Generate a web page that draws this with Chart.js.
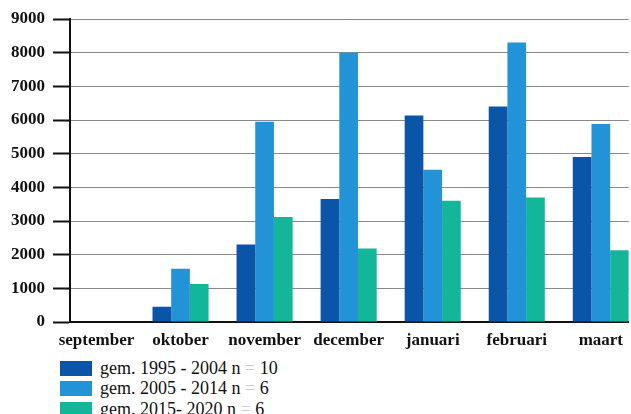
<!DOCTYPE html>
<html>
<head>
<meta charset="utf-8">
<script src="https://cdn.jsdelivr.net/npm/chart.js@4"></script>
<style>
  html, body { margin: 0; padding: 0; background: #fff; width: 631px; height: 414px; overflow: hidden; }
  #wrap { position: absolute; left: 0; top: 0; width: 631px; height: 352px; }
  #legend { position: absolute; left: 60px; top: 358px; font-family: "Liberation Serif", serif; font-size: 18px; color: #111; }
  .item { height: 20.5px; display: flex; align-items: center; }
  .box { width: 32px; height: 15px; margin-right: 8px; }
  .eq { color: #ccc; }
</style>
</head>
<body>
<div id="wrap"><canvas id="chart"></canvas></div>
<div id="legend"></div>
<script>
const months = ['september', 'oktober', 'november', 'december', 'januari', 'februari', 'maart'];
const avg1995 = [0, 450, 2300, 3650, 6130, 6400, 4900];
const avg2005 = [0, 1580, 5950, 8000, 4520, 8300, 5880];
const avg2015 = [0, 1130, 3120, 2180, 3600, 3700, 2130];
const seriesNames = ['gem. 1995 - 2004 n = 10', 'gem. 2005 - 2014 n = 6', 'gem. 2015- 2020  n = 6'];
const colors = ['#0a55a8', '#2193d6', '#14b699'];

const serif = '"Liberation Serif", "Times New Roman", serif';

// month index as x so the first group can sit a bit left of the y axis like the original
function points(values) {
    return values.map(function (v, i) { return { x: i, y: v }; });
}

const ctx = document.getElementById('chart').getContext('2d');
const chart = new Chart(ctx, {
    type: 'bar',
    data: {
        datasets: [
            { label: seriesNames[0], data: points(avg1995), backgroundColor: colors[0] },
            { label: seriesNames[1], data: points(avg2005), backgroundColor: colors[1] },
            { label: seriesNames[2], data: points(avg2015), backgroundColor: colors[2] }
        ]
    },
    options: {
        responsive: true,
        maintainAspectRatio: false,
        animation: false,
        layout: { padding: { top: 19, right: 0, left: 0, bottom: 0 } },
        plugins: {
            legend: { display: false },
            tooltip: { enabled: false }
        },
        datasets: {
            bar: { categoryPercentage: 0.667, barPercentage: 1 }
        },
        scales: {
            x: {
                type: 'linear',
                offset: false,
                min: -0.315,
                max: 6.332,
                afterFit: function (scale) { scale.height = 30; },
                grid: { display: false, drawTicks: false, offset: false },
                border: { color: '#111', width: 2 },
                ticks: {
                    stepSize: 1,
                    includeBounds: false,
                    autoSkip: false,
                    maxRotation: 0,
                    padding: 8,
                    color: '#111',
                    font: { family: serif, size: 17, weight: 'bold' },
                    callback: function (value) { return months[value] || ''; }
                }
            },
            y: {
                min: 0,
                max: 9000,
                afterFit: function (scale) { scale.width = 70; },
                grid: { color: '#8a8a8a', lineWidth: 1, tickColor: '#111', tickLength: 17, tickWidth: 2 },
                border: { color: '#111', width: 2 },
                ticks: {
                    stepSize: 1000,
                    padding: 8,
                    color: '#111',
                    font: { family: serif, size: 17, weight: 'bold' },
                    callback: function (value) { return value; }
                }
            }
        }
    }
});

const legend = document.getElementById('legend');
seriesNames.forEach(function (name, i) {
    const row = document.createElement('div');
    row.className = 'item';
    const box = document.createElement('span');
    box.className = 'box';
    box.style.background = colors[i];
    const txt = document.createElement('span');
    const parts = name.split('=');
    txt.innerHTML = parts[0] + '<span class="eq">=</span>' + parts[1];
    row.appendChild(box);
    row.appendChild(txt);
    legend.appendChild(row);
});
</script>
</body>
</html>
